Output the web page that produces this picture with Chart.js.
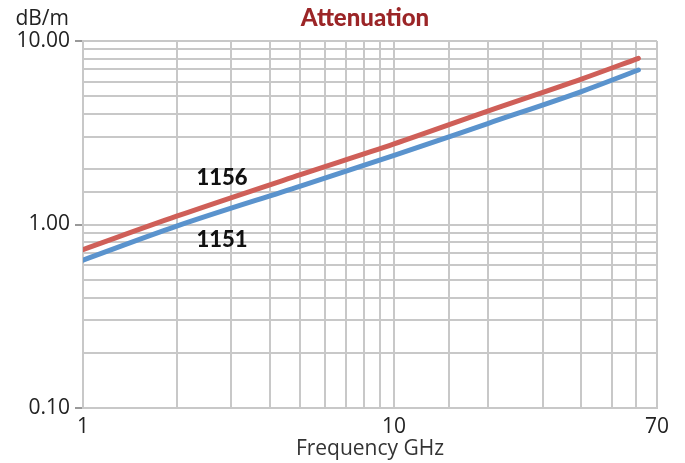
<!DOCTYPE html>
<html>
<head>
<meta charset="utf-8">
<script src="https://cdn.jsdelivr.net/npm/chart.js@4"></script>
<style>
  html, body { margin: 0; padding: 0; background: #fff; }
  #wrap { width: 685px; height: 463px; }
</style>
</head>
<body>
<div id="wrap"><canvas id="attChart"></canvas></div>
<script>
// frequency points (GHz) and attenuation (dB/m)
const freqs = [1, 2, 5, 10, 20, 40, 61];
const cable1156 = [0.73, 1.11, 1.87, 2.75, 4.15, 6.2, 8.05];
const cable1151 = [0.64, 0.98, 1.62, 2.38, 3.55, 5.3, 6.95];

const xLabels = [1, 10, 70];
const yLabels = [0.1, 1, 10];

// series name labels (placed in data units)
const seriesNames = ['1156', '1151'];
const nameX = [2.8, 2.8];
const nameY = [1.8, 0.82];

const gridGray = '#c8c8c8';
const font = '"Open Sans", Lato, sans-serif';

const toPoints = (vals) => freqs.map((f, i) => ({ x: f, y: vals[i] }));

// extra text: title, unit and the series names
const textPlugin = {
    id: 'textPlugin',
    afterDraw(chart) {
        const ctx = chart.ctx;
        const xs = chart.scales.x, ys = chart.scales.y;
        ctx.save();
        ctx.textAlign = 'center';
        ctx.textBaseline = 'middle';
        ctx.fillStyle = '#9b2527';
        ctx.font = '900 24px Lato, sans-serif';
        ctx.fillText('Attenuation', 365, 18);

        ctx.fillStyle = '#222';
        ctx.font = '21px ' + font;
        ctx.textAlign = 'right';
        ctx.fillText('dB/m', 69, 19);

        ctx.textAlign = 'center';
        ctx.fillStyle = '#111';
        ctx.font = '900 22px Lato, sans-serif';
        seriesNames.forEach((n, i) => {
            ctx.fillText(n, xs.getPixelForValue(nameX[i]), ys.getPixelForValue(nameY[i]));
        });
        ctx.restore();
    }
};

new Chart(document.getElementById('attChart'), {
    type: 'line',
    data: {
        datasets: [
            {
                label: '1156',
                data: toPoints(cable1156),
                borderColor: '#cf5f58',
                borderWidth: 5,
                pointRadius: 0,
                cubicInterpolationMode: 'monotone',
                borderCapStyle: 'round',
                fill: false
            },
            {
                label: '1151',
                data: toPoints(cable1151),
                borderColor: '#5a93cd',
                borderWidth: 5,
                pointRadius: 0,
                cubicInterpolationMode: 'monotone',
                borderCapStyle: 'round',
                fill: false
            }
        ]
    },
    options: {
        responsive: true,
        maintainAspectRatio: false,
        animation: false,
        layout: { padding: { top: 41, right: 28, left: 0, bottom: 0 } },
        plugins: {
            legend: { display: false },
            title: { display: false },
            tooltip: { enabled: false }
        },
        scales: {
            x: {
                type: 'logarithmic',
                min: 1,
                max: 70,
                afterFit: (s) => { s.height = 55; },
                grid: {
                    color: gridGray,
                    lineWidth: 2,
                    tickLength: 4,
                    tickColor: 'rgba(0,0,0,0)'
                },
                border: { color: gridGray, width: 2 },
                ticks: {
                    autoSkip: false,
                    maxRotation: 0,
                    padding: 2,
                    color: '#222',
                    font: { family: font, size: 21 },
                    callback: (v) => xLabels.includes(v) ? String(v) : ''
                },
                title: {
                    display: true,
                    text: 'Frequency GHz',
                    color: '#333',
                    font: { family: font, size: 21 },
                    padding: { top: 0, bottom: 1 }
                }
            },
            y: {
                type: 'logarithmic',
                min: 0.1,
                max: 10,
                afterFit: (s) => { s.width = 83; },
                grid: {
                    color: gridGray,
                    lineWidth: 2,
                    tickLength: 8,
                    tickColor: (c) => (c.tick && yLabels.includes(c.tick.value)) ? '#999' : 'rgba(0,0,0,0)'
                },
                border: { color: gridGray, width: 2 },
                ticks: {
                    autoSkip: false,
                    padding: 5,
                    color: '#222',
                    font: { family: font, size: 21 },
                    callback: (v) => yLabels.includes(v) ? v.toFixed(2) : ''
                }
            }
        }
    },
    plugins: [textPlugin]
});
</script>
</body>
</html>
